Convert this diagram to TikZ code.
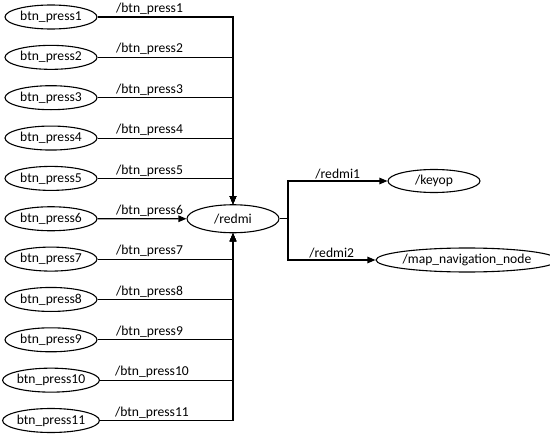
\documentclass[tikz,border=0pt]{standalone}
\usepackage{fontspec}
\setmainfont{Carlito}
\usetikzlibrary{arrows.meta,shapes.geometric}
\begin{document}
\begin{tikzpicture}[x=1pt,y=-1pt,
  every node/.style={font=\fontsize{13.6}{16}\selectfont},
  nd/.style={draw,ellipse,line width=1.1pt,inner sep=0pt,minimum width=92pt,minimum height=24pt},
  conn/.style={line width=1.1pt},
  arr/.style={conn,-{Triangle[length=8pt,width=6.5pt]}},
  lbl/.style={inner sep=1pt,anchor=south}]
\useasboundingbox (0,0) rectangle (550,439);
\foreach \i in {1,...,11}{
  \pgfmathsetmacro{\yy}{17+40.35*(\i-1)}
  \node[nd] (b\i) at (51,\yy) {btn\_press\i};
}
\node[nd,minimum height=28pt] (redmi) at (233,218.75) {/redmi};
\node[nd,minimum height=23pt] (keyop) at (434,181) {/keyop};
\node[nd,minimum width=155pt] (map) at (467,260) {/map\_navigation\_node};
\foreach \i in {1,...,5,7,8,9,10,11}{
  \draw[arr] (b\i) -| (redmi);
}
\draw[arr] (b6) -- (redmi);
\foreach \i in {1,...,11}{
  \path (b\i.east) ++(52,-1) node[lbl] (l\i) {/btn\_press\i};
}
\coordinate (br) at (288,218.75);
\draw[conn] (redmi) -- (br);
\draw[arr] (br) |- (keyop) node[pos=0.75,lbl] (lr1) {/redmi1};
\draw[arr] (br) |- (map) node[pos=0.75,lbl] (lr2) {/redmi2};
\end{tikzpicture}
\end{document}
